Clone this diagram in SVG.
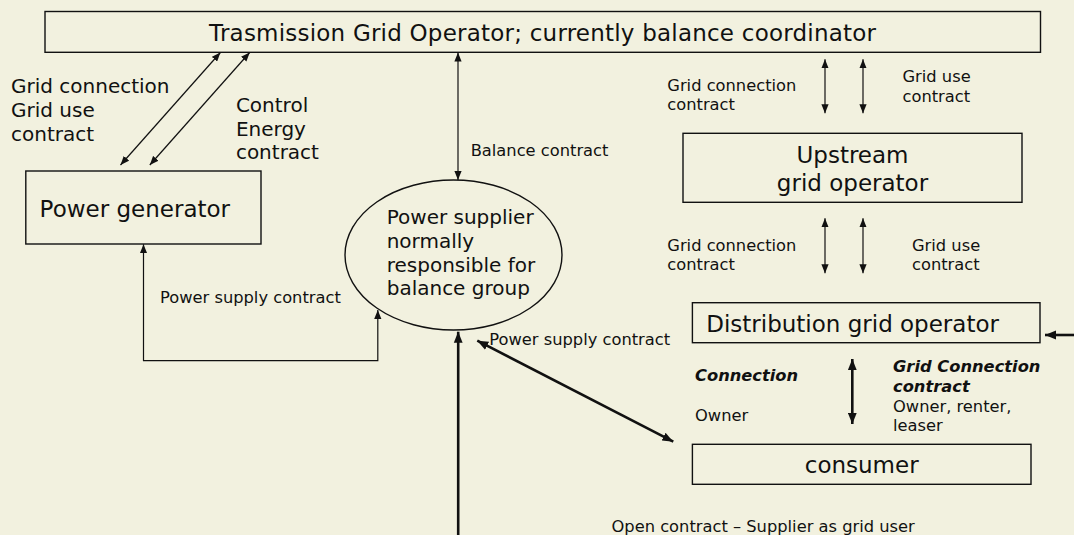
<svg xmlns="http://www.w3.org/2000/svg" width="1074" height="535" viewBox="0 0 1074 535">
<defs>
<style>
text{font-family:"DejaVu Sans",Verdana,sans-serif;fill:#111;}
.box{fill:none;stroke:#111;stroke-width:1.4;}
.big{font-size:22.5px;}
.mid{font-size:20px;}
.sm{font-size:16.3px;}
.bi{font-size:16.3px;font-weight:bold;font-style:italic;}
.thin{fill:none;stroke:#111;stroke-width:1.2;marker-start:url(#ah);marker-end:url(#ah);}
.thick{fill:none;stroke:#111;stroke-width:2.6;}
</style>
<marker id="ah" viewBox="0 0 10 8" refX="10" refY="4" markerWidth="9" markerHeight="7.5" markerUnits="userSpaceOnUse" orient="auto-start-reverse"><path d="M0,0 L10,4 L0,8 z" fill="#111"/></marker>
<marker id="ahb" viewBox="0 0 10 8" refX="10" refY="4" markerWidth="11" markerHeight="9.5" markerUnits="userSpaceOnUse" orient="auto-start-reverse"><path d="M0,0 L10,4 L0,8 z" fill="#111"/></marker>
</defs>
<rect x="0" y="0" width="1074" height="535" fill="#F2F1DF"/>

<g id="tso">
<rect class="box" x="45" y="11.5" width="995.5" height="40.8"/>
<text class="big" x="209" y="40.7" textLength="667" lengthAdjust="spacing" style="font-size:23px">Trasmission Grid Operator; currently balance coordinator</text>
</g>

<g id="generator">
<rect class="box" x="25.8" y="171" width="235.2" height="73"/>
<text class="big" x="39.6" y="217.3" style="font-size:23px">Power generator</text>
</g>

<g id="supplier">
<ellipse class="box" cx="453.5" cy="255" rx="108.5" ry="75"/>
<text class="mid" x="386.7" y="224.3">Power supplier</text>
<text class="mid" x="386.7" y="248">normally</text>
<text class="mid" x="386.7" y="271.7">responsible for</text>
<text class="mid" x="386.7" y="295.2">balance group</text>
</g>

<g id="upstream">
<rect class="box" x="683" y="133.3" width="339" height="69"/>
<text class="big" x="852.5" y="163.3" text-anchor="middle" style="font-size:23px">Upstream</text>
<text class="big" x="852.5" y="190.7" text-anchor="middle" style="font-size:23px">grid operator</text>
</g>

<g id="distribution">
<rect class="box" x="692.4" y="302.7" width="347.6" height="40"/>
<text class="big" x="706.2" y="331.7" style="font-size:23px">Distribution grid operator</text>
</g>

<g id="consumer">
<rect class="box" x="692.4" y="444.3" width="338.6" height="40"/>
<text class="big" x="861.7" y="473.3" text-anchor="middle" style="font-size:23px">consumer</text>
</g>

<g id="connectors">
<line class="thin" x1="220.4" y1="52.5" x2="120.5" y2="165"/>
<line class="thin" x1="249.7" y1="52.5" x2="149.8" y2="165"/>
<line class="thin" x1="458" y1="52.5" x2="458" y2="180"/>
<path class="thin" d="M143.5,244.2 V360.7 H377.8 V310"/>
<line class="thin" x1="825" y1="59.3" x2="825" y2="113.3"/>
<line class="thin" x1="863" y1="59.3" x2="863" y2="113.3"/>
<line class="thin" x1="825" y1="218.3" x2="825" y2="273.3"/>
<line class="thin" x1="863" y1="218.3" x2="863" y2="273.3"/>
<line class="thick" x1="458.2" y1="535" x2="458.2" y2="331.7" marker-end="url(#ahb)"/>
<line class="thick" x1="477.3" y1="340.7" x2="673.3" y2="441.7" marker-start="url(#ahb)" marker-end="url(#ahb)"/>
<line class="thick" x1="852.3" y1="359" x2="852.3" y2="424" marker-start="url(#ahb)" marker-end="url(#ahb)"/>
<line class="thick" x1="1074" y1="335" x2="1045" y2="335" marker-end="url(#ahb)"/>
</g>

<g id="labels">
<text class="mid" x="11" y="93.3">Grid connection</text>
<text class="mid" x="11" y="116.9">Grid use</text>
<text class="mid" x="11" y="140.6">contract</text>
<text class="mid" x="235.9" y="112">Control</text>
<text class="mid" x="235.9" y="135.5">Energy</text>
<text class="mid" x="235.9" y="159">contract</text>
<text class="sm" x="470.7" y="155.7">Balance contract</text>
<text class="sm" x="667.3" y="90.7">Grid connection</text>
<text class="sm" x="667.3" y="110.3">contract</text>
<text class="sm" x="902.5" y="81.7">Grid use</text>
<text class="sm" x="902.5" y="101.5">contract</text>
<text class="sm" x="667.3" y="250.7">Grid connection</text>
<text class="sm" x="667.3" y="270.3">contract</text>
<text class="sm" x="912" y="250.7">Grid use</text>
<text class="sm" x="912" y="270.3">contract</text>
<text class="sm" x="160" y="302.7">Power supply contract</text>
<text class="sm" x="489.3" y="345">Power supply contract</text>
<text class="bi" x="695" y="380.7">Connection</text>
<text class="sm" x="695" y="420.7">Owner</text>
<text class="bi" x="893" y="371.7">Grid Connection</text>
<text class="bi" x="893" y="391.7">contract</text>
<text class="sm" x="893" y="411.7">Owner, renter,</text>
<text class="sm" x="893" y="430.7">leaser</text>
<text class="sm" x="611.5" y="531.7">Open contract – Supplier as grid user</text>
</g>
</svg>
